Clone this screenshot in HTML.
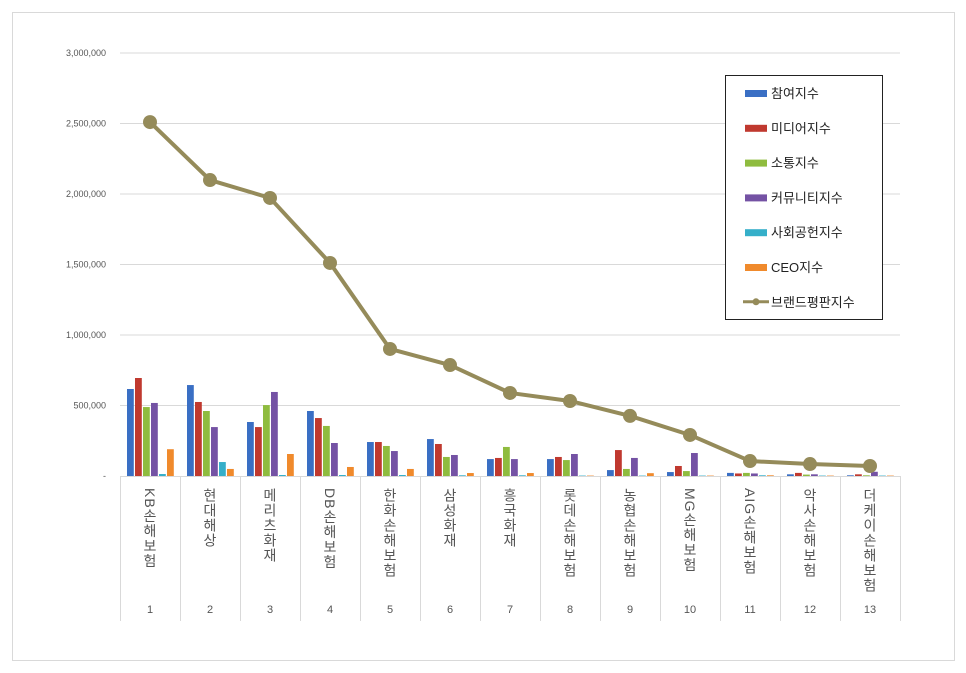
<!DOCTYPE html>
<html><head><meta charset="utf-8">
<style>
body{margin:0;background:#fff;font-family:"Liberation Sans","Noto Sans CJK KR",sans-serif;}
#wrap{position:relative;width:966px;height:673px;overflow:hidden;}
.vlab{position:absolute;top:488px;width:60px;display:flex;justify-content:center;}
.vlab span{writing-mode:vertical-rl;text-orientation:mixed;font-size:14px;color:#555;letter-spacing:1px;font-family:"Liberation Sans","Noto Sans CJK KR",sans-serif;}
.num{position:absolute;top:604px;width:60px;text-align:center;font-size:11px;color:#555;}
</style></head><body>
<div id="wrap">
<svg id="svg" width="966" height="673" style="position:absolute;left:0;top:0"></svg>
</div>
<script>
const categories=["KB손해보험","현대해상","메리츠화재","DB손해보험","한화손해보험","삼성화재","흥국화재","롯데손해보험","농협손해보험","MG손해보험","AIG손해보험","악사손해보험","더케이손해보험"];
const seriesNames=["참여지수","미디어지수","소통지수","커뮤니티지수","사회공헌지수","CEO지수"];
const participation=[617000,645000,383000,461000,241000,262000,120000,120000,42000,28000,22000,12000,5000];
const media=[695000,525000,347000,411000,241000,227000,128000,135000,184000,71000,18000,22000,12000];
const communication=[489000,461000,503000,355000,213000,135000,206000,113000,50000,35000,22000,10000,5000];
const community=[518000,347000,596000,234000,177000,149000,120000,156000,128000,163000,18000,12000,30000];
const social=[14000,99000,7000,7000,7000,5000,5000,3000,3000,3000,5000,3000,3000];
const ceo=[190000,50000,156000,64000,50000,21000,21000,3000,20000,3000,5000,3000,3000];
const brandIndex=[2510000,2099000,1972000,1511000,901000,787000,589000,532000,426000,291000,106000,85000,71000];
const yTicks=[0,500000,1000000,1500000,2000000,2500000,3000000];
const yTickLabels=["-","500,000","1,000,000","1,500,000","2,000,000","2,500,000","3,000,000"];
const colors=["#3a6fc4","#c0392f","#8fbc3f","#7452a4","#35afc9","#f08a2c"];
const lineColor="#958b5a";

const NS="http://www.w3.org/2000/svg";
const svg=document.getElementById('svg');
const wrap=document.getElementById('wrap');
const X0=120,CW=60,Y0=476,YMAX=3000000,YTOP=53;
const y=v=>Y0-(v/YMAX)*(Y0-YTOP);
const xc=i=>X0+CW*i;
function mk(tag,attrs){const e=document.createElementNS(NS,tag);for(const k in attrs)e.setAttribute(k,attrs[k]);svg.appendChild(e);return e;}

let f=mk('rect',{x:12.5,y:12.5,width:942,height:648,fill:'none',stroke:'#d9d9d9'});



yTicks.forEach((t,i)=>{
  if(t>0){let g=mk('line',{x1:X0,x2:900,y1:y(t),y2:y(t),stroke:'#d9d9d9'});
  
  }
  let tx=mk('text',{x:106,y:y(t)+3,'text-anchor':'end','font-size':9,fill:'#555'});
  tx.textContent=yTickLabels[i];
  
  
});
let ax=mk('line',{x1:X0,x2:900,y1:Y0+0.5,y2:Y0+0.5,stroke:'#d9d9d9'});


for(let i=0;i<=categories.length;i++){
  let l=mk('line',{x1:xc(i)+0.5,x2:xc(i)+0.5,y1:Y0,y2:621,stroke:'#d9d9d9'});
  
  
}
const series=[participation,media,communication,community,social,ceo];
series.forEach((s,si)=>{
  s.forEach((v,i)=>{
    let r=mk('rect',{x:xc(i)+7+si*8,y:y(v),width:6.8,height:Y0-y(v),fill:colors[si]});
    
    
  });
});
let pts=brandIndex.map((v,i)=>(xc(i)+30)+','+y(v)).join(' ');
let pl=mk('polyline',{points:pts,fill:'none',stroke:lineColor,'stroke-width':4,'stroke-linejoin':'round'});


brandIndex.forEach((v,i)=>{
  let c=mk('circle',{cx:xc(i)+30,cy:y(v),r:7,fill:lineColor});
  
  
});
categories.forEach((c,i)=>{
  const d=document.createElement('div');d.className='vlab';d.style.left=xc(i)+'px';
  
  
  const s=document.createElement('span');s.textContent=c;d.appendChild(s);wrap.appendChild(d);
  const n=document.createElement('div');n.className='num';n.style.left=xc(i)+'px';n.textContent=(i+1);
  
  
  wrap.appendChild(n);
});
// legend
let lb=mk('rect',{x:725.5,y:75.5,width:157,height:244,fill:'#fff',stroke:'#222'});


const legNames=seriesNames.concat(["브랜드평판지수"]);
legNames.forEach((nm,i)=>{
  const ly=93+i*34.8;
  if(i<6){let sw=mk('rect',{x:745,y:ly-3,width:22,height:7,fill:colors[i]});
    
    }
  else{let ll=mk('line',{x1:743,x2:769,y1:ly,y2:ly,stroke:lineColor,'stroke-width':3});
    
    
    let lc=mk('circle',{cx:756,cy:ly,r:3.5,fill:lineColor});
    
    }
  let t=mk('text',{x:771,y:ly+5,'font-size':13,fill:'#222'});
  t.textContent=nm;
  
  
});
</script>
</body></html>
